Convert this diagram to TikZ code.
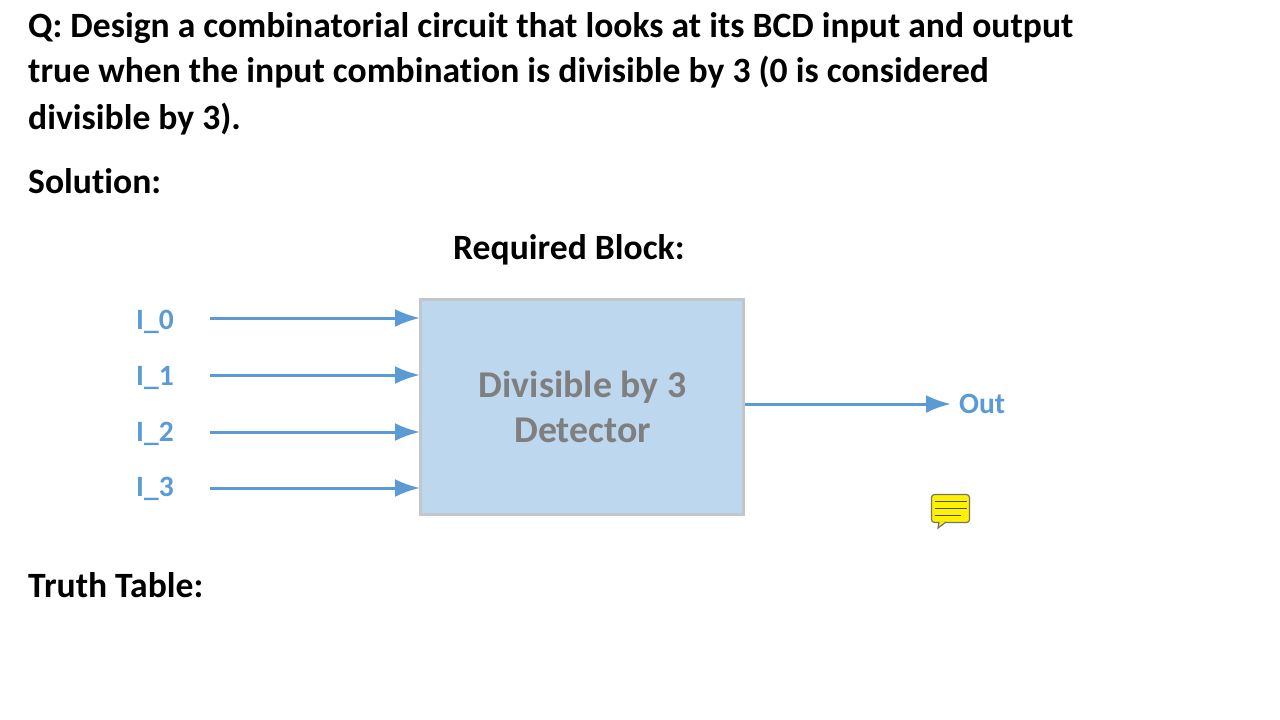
\documentclass[tikz,border=0pt]{standalone}
\usepackage{fontspec}
\setmainfont[Ligatures=NoCommon]{Carlito}
\usetikzlibrary{arrows.meta}
\definecolor{wire}{RGB}{91,155,213}
\definecolor{blockfill}{RGB}{189,215,238}
\definecolor{blockline}{RGB}{195,198,202}
\definecolor{blocktext}{RGB}{127,127,127}
\tikzset{
  heading/.style={anchor=base west,inner sep=0pt,font=\fontsize{35.6}{35.6}\selectfont\bfseries},
  portlabel/.style={inner sep=0pt,text=wire,font=\fontsize{29.5}{29.5}\selectfont\bfseries},
  blocklabel/.style={anchor=base,inner sep=0pt,text=blocktext,font=\fontsize{37.8}{37.8}\selectfont\bfseries},
  wirearrow/.style={draw=wire,line width=3pt,-{Latex[length=25pt,width=18pt]}},
}
\begin{document}
\begin{tikzpicture}[x=1pt,y=-1pt]
  \useasboundingbox (0,0) rectangle (1280,720);
  \node[heading] (q1) at (28,37) {Q: Design a combinatorial circuit that looks at its BCD input and output};
  \node[heading] (q2) at (28,82) {true when the input combination is divisible by 3 (0 is considered};
  \node[heading] (q3) at (28,129) {divisible by 3).};
  \node[heading] (sol) at (28,193) {Solution:};
  \node[heading] (req) at (453,259) {Required Block:};
  \node[heading] (tt) at (28,597) {Truth Table:};
  % the block
  \node[draw=blockline,fill=blockfill,line width=3pt,minimum width=323pt,minimum height=215pt,inner sep=0pt] (block) at (581.5,407) {};
  \node[blocklabel] (name1) at (582.5,397) {Divisible by 3};
  \node[blocklabel] (name2) at (582.5,442) {Detector};
  % inputs
  \foreach \i/\ypos/\ylab in {0/318/329,1/375/385,2/432/441,3/488/496} {
    \node[portlabel,anchor=base west] (in\i) at (136,\ylab) {I\_\i};
    \coordinate (s\i) at (210,\ypos);
    \draw[wirearrow,shorten >=-1.5pt] (s\i) -- (block.west |- s\i);
  }
  % output
  \node[portlabel,anchor=west] (out) at (959,404) {Out};
  \draw[wirearrow,shorten >=8pt] (block.east |- out.west) -- (out.west);
  % note icon
  \node[draw=black!55,fill=yellow,line width=1.2pt,rounded corners=3pt,minimum width=38pt,minimum height=28pt,inner sep=0pt] (note) at (950.5,508.5) {};
  \draw[draw=black!55,fill=yellow,line width=1.2pt] (939,522) -- (938,528) -- (946,522);
  \foreach \ypos/\xend in {501/967,508/967,515/961}
    \draw[black!70,line width=1pt] (935,\ypos) -- (\xend,\ypos);
\end{tikzpicture}
\end{document}
